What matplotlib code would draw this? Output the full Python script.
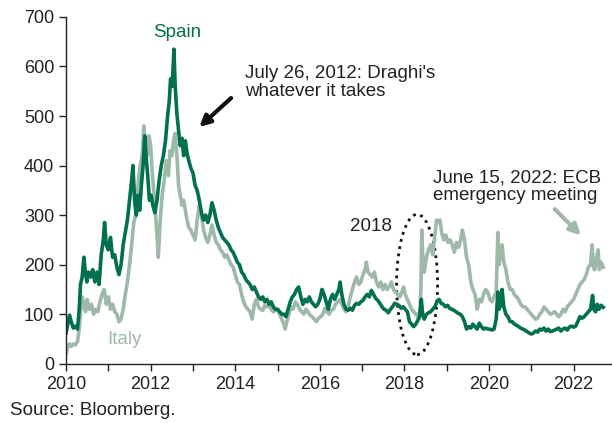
import matplotlib
matplotlib.use("Agg")
import matplotlib.pyplot as plt
from matplotlib.patches import Ellipse

plt.rcParams['font.family'] = ['Liberation Sans', 'DejaVu Sans']

# 10y spreads vs Bund (bp)
spain_t = [2010.00, 2010.04, 2010.08, 2010.12, 2010.17, 2010.22, 2010.27, 2010.31, 2010.34, 2010.38,
           2010.42, 2010.45, 2010.49, 2010.53, 2010.58, 2010.63, 2010.68, 2010.73, 2010.78, 2010.83,
           2010.88, 2010.91, 2010.95, 2011.00, 2011.05, 2011.10, 2011.15, 2011.20, 2011.25, 2011.30,
           2011.35, 2011.40, 2011.45, 2011.50, 2011.55, 2011.58, 2011.62, 2011.66, 2011.70, 2011.74,
           2011.78, 2011.82, 2011.86, 2011.89, 2011.93, 2011.97, 2012.01, 2012.05, 2012.10, 2012.15,
           2012.20, 2012.25, 2012.30, 2012.35, 2012.40, 2012.44, 2012.47, 2012.51, 2012.55, 2012.58,
           2012.62, 2012.66, 2012.70, 2012.74, 2012.78, 2012.82, 2012.86, 2012.90, 2012.95, 2013.00,
           2013.05, 2013.10, 2013.15, 2013.20, 2013.25, 2013.30, 2013.35, 2013.40, 2013.45, 2013.50,
           2013.55, 2013.60, 2013.65, 2013.70, 2013.75, 2013.80, 2013.85, 2013.90, 2013.95, 2014.00,
           2014.05, 2014.10, 2014.15, 2014.20, 2014.25, 2014.30, 2014.35, 2014.40, 2014.45, 2014.50,
           2014.55, 2014.60, 2014.65, 2014.70, 2014.75, 2014.80, 2014.85, 2014.90, 2014.95, 2015.00,
           2015.05, 2015.10, 2015.15, 2015.20, 2015.25, 2015.30, 2015.35, 2015.40, 2015.45, 2015.50,
           2015.55, 2015.60, 2015.65, 2015.70, 2015.75, 2015.80, 2015.85, 2015.90, 2015.95, 2016.00,
           2016.05, 2016.10, 2016.15, 2016.20, 2016.25, 2016.30, 2016.35, 2016.40, 2016.45, 2016.48,
           2016.52, 2016.57, 2016.62, 2016.67, 2016.72, 2016.77, 2016.82, 2016.87, 2016.92, 2016.97,
           2017.02, 2017.07, 2017.12, 2017.17, 2017.22, 2017.27, 2017.32, 2017.37, 2017.42, 2017.47,
           2017.52, 2017.57, 2017.62, 2017.67, 2017.72, 2017.77, 2017.82, 2017.87, 2017.92, 2017.97,
           2018.02, 2018.07, 2018.12, 2018.17, 2018.22, 2018.27, 2018.32, 2018.36, 2018.40, 2018.43,
           2018.47, 2018.52, 2018.57, 2018.62, 2018.67, 2018.72, 2018.77, 2018.82, 2018.87, 2018.92,
           2018.97, 2019.02, 2019.07, 2019.12, 2019.17, 2019.22, 2019.27, 2019.32, 2019.37, 2019.42,
           2019.47, 2019.52, 2019.57, 2019.62, 2019.67, 2019.72, 2019.77, 2019.82, 2019.87, 2019.92,
           2019.97, 2020.02, 2020.07, 2020.12, 2020.17, 2020.21, 2020.24, 2020.28, 2020.31, 2020.35,
           2020.40, 2020.45, 2020.50, 2020.55, 2020.60, 2020.65, 2020.70, 2020.75, 2020.80, 2020.85,
           2020.90, 2020.95, 2021.00, 2021.05, 2021.10, 2021.15, 2021.20, 2021.25, 2021.30, 2021.35,
           2021.40, 2021.45, 2021.50, 2021.55, 2021.60, 2021.65, 2021.70, 2021.75, 2021.80, 2021.85,
           2021.90, 2021.95, 2022.00, 2022.05, 2022.10, 2022.15, 2022.20, 2022.25, 2022.30, 2022.35,
           2022.40, 2022.45, 2022.48, 2022.52, 2022.56, 2022.60, 2022.65, 2022.70]
spain_bp = [62, 80, 98, 85, 72, 76, 70, 110, 160, 175,
            215, 190, 165, 185, 175, 190, 165, 185, 160, 220,
            250, 285, 240, 230, 255, 215, 220, 195, 180, 200,
            240, 265, 290, 330, 370, 400, 330, 300, 340, 310,
            360, 400, 460, 420, 380, 330, 340, 320, 305, 330,
            370, 400, 420, 450, 500, 530, 575, 560, 635, 560,
            505, 470, 440, 455, 420, 450, 425, 410, 395, 385,
            360, 350, 330, 305, 290, 300, 285, 300, 325, 310,
            290, 275, 265, 255, 250, 245, 240, 230, 225, 215,
            205, 200, 185, 180, 170, 165, 160, 150, 155, 145,
            135, 130, 135, 125, 130, 120, 125, 115, 110, 110,
            105, 100, 100, 95, 110, 125, 135, 140, 150, 155,
            135, 120, 130, 125, 135, 125, 120, 115, 120, 130,
            150, 140, 125, 110, 130, 140, 130, 140, 150, 165,
            140, 120, 110, 108, 112, 108, 118, 122, 120, 125,
            128, 135, 140, 135, 148, 140, 132, 128, 122, 115,
            110, 108, 103, 110, 115, 122, 120, 118, 112, 115,
            110, 105, 85, 80, 75, 80, 88, 95, 130, 100,
            90, 100, 103, 105, 110, 115, 125, 130, 122, 120,
            115, 118, 112, 110, 108, 105, 102, 100, 95, 85,
            70, 75, 72, 80, 75, 70, 82, 75, 70, 72,
            70, 70, 68, 70, 90, 145, 110, 120, 150, 115,
            100, 95, 85, 85, 80, 78, 75, 72, 70, 68,
            65, 62, 60, 62, 66, 64, 70, 68, 72, 66,
            70, 65, 66, 68, 70, 72, 66, 70, 72, 68,
            74, 76, 74, 76, 85, 95, 92, 95, 100, 105,
            110, 138, 110, 105, 120, 110, 118, 114]

italy_t = [2010.00, 2010.04, 2010.08, 2010.12, 2010.17, 2010.22, 2010.27, 2010.31, 2010.35, 2010.38,
           2010.42, 2010.46, 2010.50, 2010.55, 2010.60, 2010.65, 2010.70, 2010.75, 2010.80, 2010.85,
           2010.90, 2010.95, 2011.00, 2011.05, 2011.10, 2011.15, 2011.20, 2011.25, 2011.30, 2011.35,
           2011.40, 2011.45, 2011.50, 2011.55, 2011.60, 2011.65, 2011.70, 2011.75, 2011.80, 2011.84,
           2011.88, 2011.92, 2011.96, 2012.00, 2012.05, 2012.10, 2012.15, 2012.18, 2012.22, 2012.27,
           2012.32, 2012.37, 2012.42, 2012.46, 2012.50, 2012.55, 2012.58, 2012.62, 2012.66, 2012.70,
           2012.74, 2012.78, 2012.82, 2012.86, 2012.90, 2012.95, 2013.00, 2013.05, 2013.10, 2013.15,
           2013.20, 2013.25, 2013.30, 2013.35, 2013.40, 2013.45, 2013.50, 2013.55, 2013.60, 2013.65,
           2013.70, 2013.75, 2013.80, 2013.85, 2013.90, 2013.95, 2014.00, 2014.05, 2014.10, 2014.15,
           2014.20, 2014.25, 2014.30, 2014.35, 2014.40, 2014.45, 2014.50, 2014.55, 2014.60, 2014.65,
           2014.70, 2014.75, 2014.80, 2014.85, 2014.90, 2014.95, 2015.00, 2015.05, 2015.10, 2015.15,
           2015.18, 2015.22, 2015.27, 2015.32, 2015.37, 2015.42, 2015.47, 2015.52, 2015.57, 2015.62,
           2015.67, 2015.72, 2015.77, 2015.82, 2015.87, 2015.92, 2015.97, 2016.02, 2016.07, 2016.12,
           2016.17, 2016.22, 2016.27, 2016.32, 2016.37, 2016.42, 2016.47, 2016.52, 2016.57, 2016.62,
           2016.67, 2016.72, 2016.77, 2016.82, 2016.87, 2016.92, 2016.97, 2017.02, 2017.07, 2017.10,
           2017.14, 2017.19, 2017.24, 2017.29, 2017.34, 2017.39, 2017.44, 2017.49, 2017.54, 2017.59,
           2017.64, 2017.69, 2017.74, 2017.79, 2017.84, 2017.89, 2017.94, 2017.98, 2018.02, 2018.07,
           2018.12, 2018.17, 2018.22, 2018.27, 2018.32, 2018.37, 2018.39, 2018.41, 2018.44, 2018.47,
           2018.52, 2018.57, 2018.62, 2018.67, 2018.72, 2018.76, 2018.80, 2018.84, 2018.88, 2018.93,
           2018.98, 2019.03, 2019.08, 2019.13, 2019.18, 2019.23, 2019.28, 2019.33, 2019.37, 2019.42,
           2019.47, 2019.52, 2019.57, 2019.62, 2019.67, 2019.72, 2019.77, 2019.82, 2019.87, 2019.92,
           2019.97, 2020.02, 2020.07, 2020.12, 2020.17, 2020.21, 2020.24, 2020.27, 2020.31, 2020.35,
           2020.40, 2020.45, 2020.50, 2020.55, 2020.60, 2020.65, 2020.70, 2020.75, 2020.80, 2020.85,
           2020.90, 2020.95, 2021.00, 2021.05, 2021.10, 2021.15, 2021.20, 2021.25, 2021.30, 2021.35,
           2021.40, 2021.45, 2021.50, 2021.55, 2021.60, 2021.65, 2021.70, 2021.75, 2021.80, 2021.85,
           2021.90, 2021.95, 2022.00, 2022.05, 2022.10, 2022.15, 2022.20, 2022.25, 2022.30, 2022.35,
           2022.40, 2022.44, 2022.47, 2022.50, 2022.54, 2022.58, 2022.61, 2022.65, 2022.70]
italy_bp = [20, 35, 40, 35, 40, 38, 45, 70, 110, 135,
            120, 105, 130, 110, 120, 100, 110, 105, 125, 140,
            150, 120, 135, 110, 120, 105, 100, 85, 90, 110,
            140, 165, 200, 240, 285, 300, 360, 400, 420, 480,
            430, 420, 460, 440, 370, 320, 260, 215, 280, 340,
            370, 410, 380, 430, 420, 455, 465, 420, 360, 340,
            320, 330, 310, 290, 275, 270, 260, 250, 290, 320,
            300, 270, 255, 245, 260, 280, 260, 245, 240, 230,
            225, 215, 220, 210, 200, 195, 180, 165, 160, 140,
            125, 115, 110, 105, 90, 120, 130, 115, 110, 108,
            118, 115, 120, 110, 105, 108, 110, 100, 90, 80,
            70, 85, 100, 115, 110, 125, 120, 110, 105, 100,
            110, 105, 98, 95, 90, 85, 92, 95, 100, 112,
            105, 100, 108, 110, 120, 125, 130, 120, 110, 105,
            115, 135, 150, 165, 175, 160, 165, 180, 190, 205,
            185, 180, 175, 185, 165, 155, 165, 150, 160, 150,
            155, 165, 150, 145, 140, 135, 145, 155, 140, 130,
            120, 110, 105, 100, 95, 110, 150, 270, 200, 185,
            215, 230, 240, 220, 260, 290, 285, 290, 265, 250,
            260, 245, 250, 240, 225, 245, 235, 250, 270, 250,
            215, 200, 165, 150, 140, 110, 130, 125, 140, 150,
            145, 130, 125, 135, 145, 265, 200, 220, 240, 205,
            190, 165, 150, 150, 140, 135, 130, 120, 115, 115,
            110, 105, 100, 95, 90, 92, 100, 105, 115, 110,
            105, 100, 102, 105, 100, 95, 100, 110, 105, 115,
            120, 125, 130, 140, 150, 160, 165, 170, 180, 195,
            200, 240, 195, 190, 210, 230, 190, 205, 195]

year_ticks = [2010, 2012, 2014, 2016, 2018, 2020, 2022]
odd_years = [2011, 2013, 2015, 2017, 2019, 2021]
bp_ticks = [0, 100, 200, 300, 400, 500, 600, 700]

spain_col = "#00704f"
italy_col = "#9fb9a9"
txt_col = "#222222"

fig = plt.figure(figsize=(6.12, 4.23), dpi=100)
ax = fig.add_axes([0.108, 0.14, 0.89, 0.82])

ax.plot(italy_t, italy_bp, color=italy_col, lw=2.6, solid_joinstyle="round")
ax.plot(spain_t, spain_bp, color=spain_col, lw=2.6, solid_joinstyle="round")

ax.set_xlim(2010, 2022.88)
ax.set_ylim(0, 700)
ax.set_xticks(year_ticks)
ax.set_xticks(odd_years, minor=True)
ax.set_yticks(bp_ticks)
ax.tick_params(axis="both", which="both", direction="out", length=5, width=1, labelsize=13, colors=txt_col)
for side in ["top", "right"]:
    ax.spines[side].set_visible(False)
for side in ["left", "bottom"]:
    ax.spines[side].set_linewidth(1)
    ax.spines[side].set_color(txt_col)

ax.text(2012.62, 668, "Spain", color=spain_col, fontsize=13.5, ha="center", va="center")
ax.text(2011.37, 49, "Italy", color=italy_col, fontsize=13.5, ha="center", va="center")

ax.text(2014.23, 567, "July 26, 2012: Draghi's\nwhatever it takes", fontsize=13.5,
        color=txt_col, ha="left", va="center", linespacing=1.05)
ax.annotate("", xy=(2013.10, 474), xytext=(2013.95, 540),
            arrowprops=dict(arrowstyle="-|>", lw=3, color="#111111", mutation_scale=16))

ax.text(2018.68, 358, "June 15, 2022: ECB\nemergency meeting", fontsize=13.5,
        color=txt_col, ha="left", va="center", linespacing=1.05)
ax.annotate("", xy=(2022.22, 255), xytext=(2021.51, 316),
            arrowprops=dict(arrowstyle="-|>", lw=3, color=italy_col, mutation_scale=16))

ax.text(2017.21, 277, "2018", fontsize=13.5, color=txt_col, ha="center", va="center")
ax.add_patch(Ellipse((2018.30, 160), 0.97, 283, fill=False, ls=":", lw=2, ec="#111111"))

fig.text(0.016, 0.03, "Source: Bloomberg.", fontsize=13.5, color=txt_col, ha="left", va="center")

fig.savefig("out.png", dpi=100)
